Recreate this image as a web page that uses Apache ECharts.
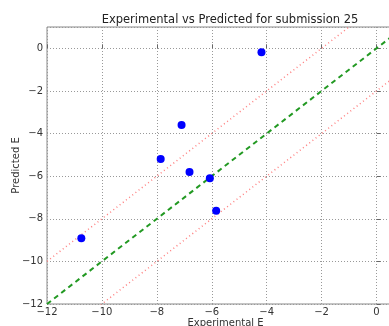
<!DOCTYPE html>
<html>
<head>
<meta charset="utf-8">
<script src="https://cdn.jsdelivr.net/npm/echarts@6/dist/echarts.min.js"></script>
<style>
  html, body { margin: 0; padding: 0; background: #fff; }
  #chart { width: 389px; height: 326px; }
</style>
</head>
<body>
<div id="chart"></div>
<script>
// Measured energies against model predictions for submission 25
const experimental = [-10.75, -7.86, -7.10, -6.81, -6.07, -5.84, -4.19];
const predicted    = [-8.92, -5.20, -3.60, -5.81, -6.10, -7.62, -0.19];

// Axis ranges and tick spacing
const xRange = [-12, 1];
const yRange = [-12, 1];
const tickStep = 2;

// Reference lines y = x + offset: perfect agreement and a ±2 band
const parityOffset = 0;
const bandOffsets = [2, -2];

const minus = v => String(v).replace('-', '\u2212');
const evenLabel = v => (v % tickStep === 0 ? minus(v) : '');

function refLine(offset) {
  return [
    [xRange[0], xRange[0] + offset],
    [xRange[1], xRange[1] + offset]
  ];
}

const font = 'DejaVu Sans';
const chart = echarts.init(document.getElementById('chart'), null, { renderer: 'canvas' });

const axisCommon = {
  type: 'value',
  interval: tickStep,
  axisLine: { show: false },
  axisTick: { show: true, inside: true, length: 4, lineStyle: { color: '#666' } },
  splitLine: { show: true, lineStyle: { color: '#999', type: [1, 2], width: 1 } },
  nameMoveOverlap: false,
  nameTextStyle: { fontFamily: font, fontSize: 10, color: '#333' }
};

chart.setOption({
  animation: false,
  title: {
    text: 'Experimental vs Predicted for submission 25',
    left: 225, top: 9, textAlign: 'center',
    textStyle: { fontFamily: font, fontSize: 11.5, fontWeight: 'normal', color: '#222' }
  },
  grid: {
    left: 47, top: 27, width: 357, height: 277,
    containLabel: false, outerBoundsMode: 'none',
    show: true, borderColor: '#888', borderWidth: 1, backgroundColor: 'transparent'
  },
  xAxis: Object.assign({}, axisCommon, {
    min: xRange[0], max: xRange[1],
    name: 'Experimental E', nameLocation: 'middle', nameGap: 14,
    axisLabel: { formatter: evenLabel, margin: 3, fontFamily: font, fontSize: 10, color: '#333', showMaxLabel: false }
  }),
  yAxis: Object.assign({}, axisCommon, {
    min: yRange[0], max: yRange[1],
    name: 'Predicted E', nameLocation: 'middle', nameGap: 26,
    axisLabel: { formatter: evenLabel, margin: 4, fontFamily: font, fontSize: 10, color: '#333', showMaxLabel: false }
  }),
  series: [
    {
      type: 'line', data: refLine(parityOffset), symbol: 'none', silent: true, clip: true,
      lineStyle: { color: '#229922', width: 2, type: [5, 4] }, z: 2
    },
    ...bandOffsets.map(off => ({
      type: 'line', data: refLine(off), symbol: 'none', silent: true, clip: true,
      lineStyle: { color: '#ff8080', width: 1.5, type: [1, 3] }, z: 2
    })),
    {
      type: 'scatter',
      data: experimental.map((x, i) => [x, predicted[i]]),
      symbol: 'circle', symbolSize: 8,
      itemStyle: { color: '#0000ff', opacity: 1 }, z: 3
    }
  ]
});
</script>
</body>
</html>
